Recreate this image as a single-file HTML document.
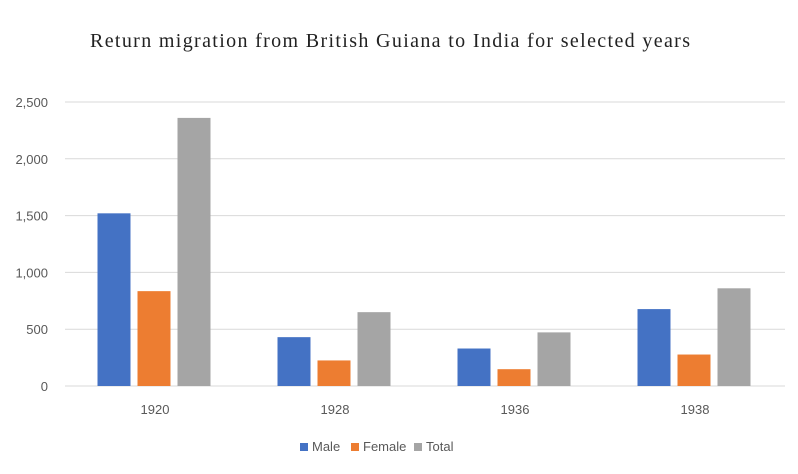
<!DOCTYPE html>
<html><head><meta charset="utf-8"><style>
body{margin:0;background:#fff;}
svg{display:block;}
</style></head><body>
<svg id="chart" width="798" height="474" xmlns="http://www.w3.org/2000/svg">
<rect width="798" height="474" fill="#fff"/>
<text x="90" y="47" textLength="600" lengthAdjust="spacing" font-family="Liberation Serif, serif" font-size="20" fill="#222">Return migration from British Guiana to India for selected years</text>
<g id="grid"></g><g id="bars"></g><g id="xlabels"></g>
<g font-family="Liberation Sans, sans-serif" font-size="13" fill="#595959">
<rect x="300" y="443" width="8" height="8" fill="#4472c4"/><text x="312" y="451">Male</text>
<rect x="351" y="443" width="8" height="8" fill="#ed7d31"/><text x="363" y="451">Female</text>
<rect x="414" y="443" width="8" height="8" fill="#a5a5a5"/><text x="426" y="451">Total</text>
</g>
</svg>
<script>
const categories=["1920","1928","1936","1938"];
const male=[1520,430,330,677];
const female=[835,225,148,277];
const total=[2360,650,472,860];
const yTicks=[0,500,1000,1500,2000,2500];
const yTickLabels=["0","500","1,000","1,500","2,000","2,500"];
const ns="http://www.w3.org/2000/svg";
const x0=65,x1=785,yBase=386,yTop=102,yMax=2500;
const y=v=>yBase-(yBase-yTop)*v/yMax;
const band=(x1-x0)/categories.length;
const grid=document.getElementById('grid');
yTicks.forEach((t,i)=>{
 const l=document.createElementNS(ns,'line');
 
 
 l.setAttribute('x1',x0);l.setAttribute('x2',x1);l.setAttribute('y1',y(t));l.setAttribute('y2',y(t));
 l.setAttribute('stroke','#d9d9d9');l.setAttribute('stroke-width','1');
 grid.appendChild(l);
 const tx=document.createElementNS(ns,'text');
 
 
 tx.setAttribute('x',48);tx.setAttribute('y',y(t)+5);tx.setAttribute('text-anchor','end');
 tx.setAttribute('font-family','Liberation Sans, sans-serif');tx.setAttribute('font-size','13');tx.setAttribute('fill','#595959');
 tx.textContent=yTickLabels[i];grid.appendChild(tx);
});
const series=[[male,'#4472c4','male'],[female,'#ed7d31','female'],[total,'#a5a5a5','total']];
const bars=document.getElementById('bars'),xl=document.getElementById('xlabels');
const bw=33,step=40;
categories.forEach((c,i)=>{
 const cx=x0+band*(i+0.5);
 series.forEach((s,j)=>{
  const r=document.createElementNS(ns,'rect');
  
  
  const bx=cx+(j-1)*step-bw/2-1;
  r.setAttribute('x',bx);r.setAttribute('width',bw);
  r.setAttribute('y',y(s[0][i]));r.setAttribute('height',yBase-y(s[0][i]));
  r.setAttribute('fill',s[1]);bars.appendChild(r);
 });
 const t=document.createElementNS(ns,'text');
 
 
 t.setAttribute('x',cx);t.setAttribute('y',414);t.setAttribute('text-anchor','middle');
 t.setAttribute('font-family','Liberation Sans, sans-serif');t.setAttribute('font-size','13');t.setAttribute('fill','#595959');
 t.textContent=c;xl.appendChild(t);
});
</script>
</body></html>
